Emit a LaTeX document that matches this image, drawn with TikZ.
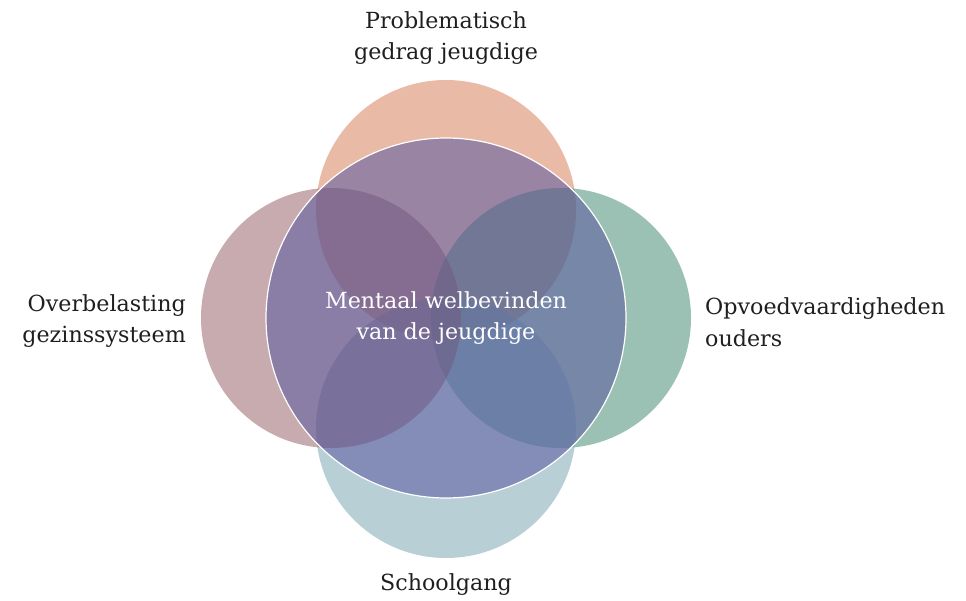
\documentclass[tikz,border=0pt]{standalone}
\usepackage{fontspec}
\setmainfont{DejaVu Serif}
\definecolor{ringtop}{RGB}{211,119,79}
\definecolor{ringleft}{RGB}{143,87,93}
\definecolor{ringright}{RGB}{55,131,105}
\definecolor{ringbottom}{RGB}{113,159,173}
\definecolor{ringmid}{RGB}{89,88,160}
\begin{document}
\begin{tikzpicture}[x=1pt,y=-1pt,
	ring/.style={fill opacity=0.5},
	lbl/.style={font=\fontsize{22.2}{31.5}\selectfont,text=black!88,inner sep=0pt}]
	\useasboundingbox (0,0) rectangle (966,601);
	% outer circles
	\fill[ringtop,ring] (446,210) circle(130pt);
	\fill[ringright,ring] (561,318) circle(130pt);
	\fill[ringbottom,ring] (446,428) circle(130pt);
	\fill[ringleft,ring] (331,318) circle(130pt);
	% centre circle
	\draw[white,line width=1.2pt,fill=ringmid,fill opacity=0.55] (446,318) circle(180pt);
	\node[lbl,align=center] (mid) at (446,318) {\textcolor{white}{Mentaal welbevinden}\\\textcolor{white}{van de jeugdige}};
	\node[lbl,align=center] (gedrag) at (446,38) {Problematisch\\gedrag jeugdige};
	\node[lbl,align=right,anchor=east] (gezin) at (186,321) {Overbelasting\\gezinssysteem};
	\node[lbl,align=left,anchor=west] (ouders) at (705,322) {Opvoedvaardigheden\\ouders};
	\node[lbl] (school) at (446,585) {Schoolgang};
\end{tikzpicture}
\end{document}
